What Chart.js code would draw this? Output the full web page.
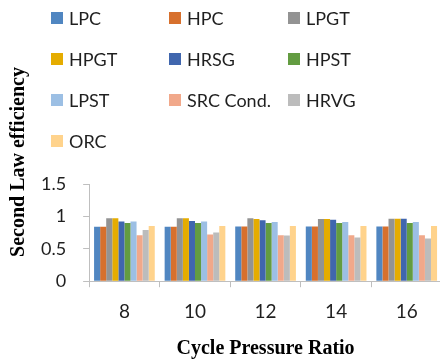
<!DOCTYPE html>
<html>
<head>
<meta charset="utf-8">
<script src="https://cdn.jsdelivr.net/npm/chart.js"></script>
<style>
    html, body { margin: 0; padding: 0; background: #fff; overflow: hidden; }
    canvas { display: block; }
</style>
</head>
<body>
<canvas id="chartjs-exergy" width="444" height="361"></canvas>
<script>
// pressure ratios on the x axis
const ratios = ["8", "10", "12", "14", "16"];

// second law efficiency of each component
const lpc = [0.84, 0.84, 0.845, 0.845, 0.845];
const hpc = [0.84, 0.84, 0.845, 0.845, 0.845];
const lpgt = [0.97, 0.97, 0.97, 0.96, 0.965];
const hpgt = [0.97, 0.97, 0.96, 0.96, 0.965];
const hrsg = [0.92, 0.93, 0.94, 0.95, 0.965];
const hpst = [0.90, 0.90, 0.90, 0.90, 0.90];
const lpst = [0.92, 0.92, 0.915, 0.915, 0.915];
const srcCond = [0.71, 0.72, 0.71, 0.71, 0.71];
const hrvg = [0.79, 0.75, 0.705, 0.675, 0.66];
const orc = [0.85, 0.85, 0.85, 0.85, 0.85];

const names = ["LPC", "HPC", "LPGT", "HPGT", "HRSG", "HPST", "LPST", "SRC Cond.", "HRVG", "ORC"];
const series = [lpc, hpc, lpgt, hpgt, hrsg, hpst, lpst, srcCond, hrvg, orc];
const colors = ['#5086c1', '#d7702d', '#939393', '#e5ac00', '#4066ae',
    '#639c41', '#9cbfe4', '#f1a88a', '#bcbcbc', '#ffd38c'];

const yTicks = [0, 0.5, 1, 1.5];

// legend in a 3 column grid above the plot + rotated y title
const sideText = {
    id: 'sideText',
    afterDraw(chart) {
        const ctx = chart.ctx;
        const colX = [51, 169, 288];
        const rowY = [18, 59, 100, 141];
        ctx.save();
        ctx.font = '18px Lato';
        ctx.textBaseline = 'middle';
        ctx.textAlign = 'left';
        chart.data.datasets.forEach(function (ds, i) {
            const x = colX[i % 3], y = rowY[Math.floor(i / 3)];
            ctx.fillStyle = ds.backgroundColor;
            ctx.fillRect(x, y - 6, 12, 12);
            ctx.fillStyle = '#1f1f1f';
            ctx.fillText(ds.label, x + 18, y + 1);
        });

        ctx.translate(19, 162);
        ctx.rotate(-Math.PI / 2);
        ctx.font = 'bold 20px "Liberation Serif"';
        ctx.textAlign = 'center';
        ctx.fillStyle = '#000';
        ctx.fillText('Second Law efficiency', 0, 0);
        ctx.restore();
    }
};

window.charts = window.charts || {};
window.charts["chartjs-exergy"] = new Chart(document.getElementById('chartjs-exergy'), {
    type: 'bar',
    data: {
        labels: ratios,
        datasets: series.map(function (values, i) {
            return {
                label: names[i],
                data: values,
                backgroundColor: colors[i],
                borderWidth: 0,
                categoryPercentage: 0.86,
                barPercentage: 1.0
            };
        })
    },
    options: {
        responsive: false,
        animation: false,
        layout: {
            padding: { top: 184, left: 24, right: 2, bottom: 0 }
        },
        scales: {
            x: {
                border: { color: '#bfbfbf' },
                grid: { drawOnChartArea: false, tickLength: 6, color: '#bfbfbf' },
                ticks: { color: '#1f1f1f', font: { family: 'Lato', size: 19 }, padding: 13 },
                title: {
                    display: true,
                    text: 'Cycle Pressure Ratio',
                    color: '#000',
                    font: { family: '"Liberation Serif"', size: 20, weight: 'bold' },
                    padding: { top: 1, bottom: 0 }
                }
            },
            y: {
                min: 0,
                max: 1.5,
                afterBuildTicks: function (axis) {
                    axis.ticks = yTicks.map(function (v) { return { value: v }; });
                },
                border: { color: '#bfbfbf' },
                grid: { drawOnChartArea: false, tickLength: 6, color: '#bfbfbf' },
                ticks: {
                    color: '#1f1f1f',
                    font: { family: 'Lato', size: 18 },
                    padding: 17,
                    callback: function (value) { return String(value); }
                }
            }
        },
        plugins: {
            legend: { display: false },
            tooltip: { enabled: false }
        }
    },
    plugins: [sideText]
});
</script>
</body>
</html>
